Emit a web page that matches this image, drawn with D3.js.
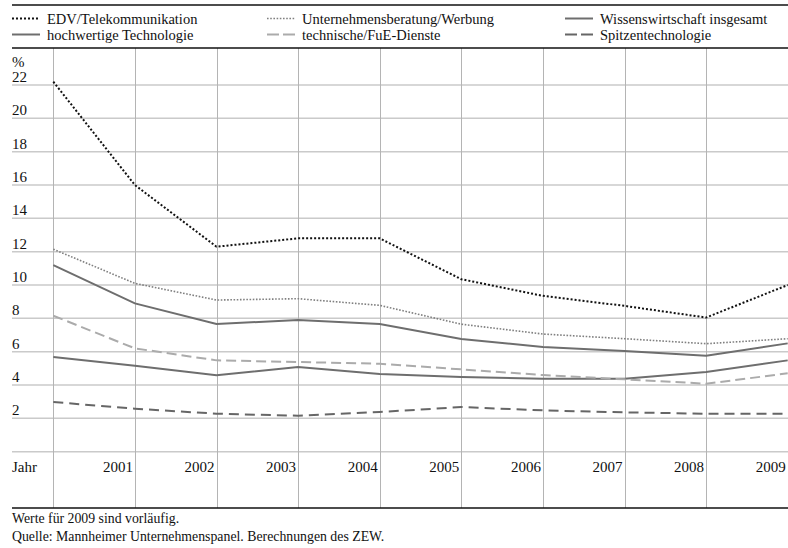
<!DOCTYPE html>
<html>
<head>
<meta charset="utf-8">
<script src="https://cdn.jsdelivr.net/npm/d3@7"></script>
<style>
  body { margin: 0; background: #fff; }
  svg text { font-family: "Liberation Serif", "Times New Roman", serif; fill: #111; }
</style>
</head>
<body>
<div id="vis_container"></div>
<script>
// Gruendungsraten in der Wissenswirtschaft, in %
var years = [2000, 2001, 2002, 2003, 2004, 2005, 2006, 2007, 2008, 2009];
var yTicks = [2, 4, 6, 8, 10, 12, 14, 16, 18, 20, 22];
var xTickLabels = ["Jahr", "2001", "2002", "2003", "2004", "2005", "2006", "2007", "2008", "2009"];

var edv        = [22.2, 16.0, 12.3, 12.8, 12.8, 10.35, 9.35, 8.75, 8.05, 10.0];
var beratung   = [12.15, 10.1, 9.1, 9.18, 8.78, 7.65, 7.06, 6.78, 6.48, 6.78];
var insgesamt  = [11.2, 8.9, 7.66, 7.9, 7.66, 6.76, 6.28, 6.04, 5.76, 6.5];
var hochwertig = [5.68, 5.16, 4.58, 5.08, 4.66, 4.48, 4.38, 4.38, 4.78, 5.48];
var fue        = [8.16, 6.2, 5.48, 5.38, 5.28, 4.94, 4.6, 4.34, 4.08, 4.7];
var spitze     = [2.98, 2.58, 2.28, 2.16, 2.38, 2.68, 2.48, 2.36, 2.28, 2.28];

var seriesNames = ["EDV/Telekommunikation", "Unternehmensberatung/Werbung", "Wissenswirtschaft insgesamt",
                   "hochwertige Technologie", "technische/FuE-Dienste", "Spitzentechnologie"];

var footNotes = ["Werte für 2009 sind vorläufig.",
                 "Quelle: Mannheimer Unternehmenspanel. Berechnungen des ZEW."];

// line styles per series
var styles = {
  "EDV/Telekommunikation":        {stroke: "#111", width: 2,   dash: "2,2"},
  "Unternehmensberatung/Werbung": {stroke: "#808080", width: 1.6, dash: "1.6,1.6"},
  "Wissenswirtschaft insgesamt":  {stroke: "#6e6e6e", width: 2, dash: null},
  "hochwertige Technologie":      {stroke: "#6e6e6e", width: 2, dash: null},
  "technische/FuE-Dienste":       {stroke: "#ababab", width: 2, dash: "10,5"},
  "Spitzentechnologie":           {stroke: "#666", width: 2, dash: "10,6"}
};
var values = [edv, beratung, insgesamt, hochwertig, fue, spitze];

var width = 788;
var height = 548;
var left = 12;

var svg = d3.select("#vis_container")
    .append("svg")
    .attr("width", width)
    .attr("height", height);

var x = d3.scaleLinear()
    .domain([2000, 2009])
    .range([53.3, 787.7]);

var y = d3.scaleLinear()
    .domain([0, 24])
    .range([451.7, 51.7]);

// horizontal grid
svg.selectAll(".hgrid")
    .data([0].concat(yTicks))
    .enter().append("line")
    .attr("x1", left).attr("x2", width)
    .attr("y1", function (d) { return y(d); })
    .attr("y2", function (d) { return y(d); })
    .attr("stroke", "#cacaca")
    .attr("stroke-width", 1.5);

// vertical grid
svg.selectAll(".vgrid")
    .data(years.slice(0, 9))
    .enter().append("line")
    .attr("x1", function (d) { return Math.round(x(d)) + 0.5; })
    .attr("x2", function (d) { return Math.round(x(d)) + 0.5; })
    .attr("y1", 48).attr("y2", 508)
    .attr("stroke", "#b4b4b4")
    .attr("stroke-width", 1);

// y labels sit above their grid line
svg.selectAll(".ylab")
    .data(yTicks)
    .enter().append("text")
    .attr("x", left)
    .attr("y", function (d) { return y(d) - 3; })
    .style("font-size", "15px")
    .text(function (d) { return d; });

svg.append("text")
    .attr("x", left).attr("y", 67)
    .style("font-size", "15px")
    .text("%");

// x labels, right aligned to the year line
svg.selectAll(".xlab")
    .data(years)
    .enter().append("text")
    .attr("x", function (d, i) { return i === 0 ? left : x(d) - 2; })
    .attr("y", 472)
    .style("text-anchor", function (d, i) { return i === 0 ? "start" : "end"; })
    .style("font-size", "15px")
    .text(function (d, i) { return xTickLabels[i]; });

// lines
var lineFunc = d3.line()
    .x(function (d, i) { return x(years[i]); })
    .y(function (d) { return y(d); });

seriesNames.forEach(function (name, k) {
  var s = styles[name];
  svg.append("path")
    .attr("d", lineFunc(values[k]))
    .attr("stroke", s.stroke)
    .attr("stroke-width", s.width)
    .attr("stroke-dasharray", s.dash)
    .attr("fill", "none");
});

// frame lines
[5, 48, 508].forEach(function (yy) {
  svg.append("line")
    .attr("x1", left).attr("x2", width)
    .attr("y1", yy).attr("y2", yy)
    .attr("stroke", "#111")
    .attr("stroke-width", 1.3);
});

// legend: order by row, three columns
var colX = [12, 267, 565];
var rowY = [23.5, 39.5];
seriesNames.forEach(function (name, i) {
  var s = styles[name];
  var cx = colX[i % 3], cy = rowY[Math.floor(i / 3)];
  svg.append("line")
    .attr("x1", cx).attr("x2", cx + 28)
    .attr("y1", cy - 5).attr("y2", cy - 5)
    .attr("stroke", s.stroke)
    .attr("stroke-width", s.width)
    .attr("stroke-dasharray", s.dash ? (s.dash === "10,5" || s.dash === "10,6" ? "12,4" : s.dash) : null);
  svg.append("text")
    .attr("x", cx + 35).attr("y", cy)
    .style("font-size", "14.5px")
    .text(name);
});

// footnotes
svg.selectAll(".foot")
    .data(footNotes)
    .enter().append("text")
    .attr("x", left)
    .attr("y", function (d, i) { return 523 + i * 18; })
    .style("font-size", "13.8px")
    .text(function (d) { return d; });
</script>
</body>
</html>
